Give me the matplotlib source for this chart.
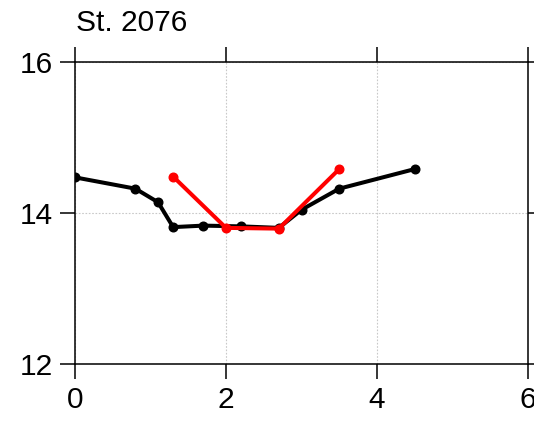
import matplotlib
matplotlib.use("Agg")
import matplotlib.pyplot as plt

plt.rcParams['font.family'] = ['Liberation Sans', 'DejaVu Sans']

# station profile data
black_x = [0.0, 0.8, 1.1, 1.3, 1.7, 2.2, 2.7, 3.0, 3.5, 4.5]
black_y = [14.47, 14.32, 14.14, 13.81, 13.83, 13.82, 13.80, 14.04, 14.32, 14.58]
red_x = [1.3, 2.0, 2.7, 3.5]
red_y = [14.48, 13.80, 13.79, 14.58]

x_ticks = [0, 2, 4, 6]
y_ticks = [12, 14, 16]
title = "St. 2076"

fig = plt.figure(figsize=(5.34, 4.21), dpi=100)
ax = fig.add_axes([75/534, 1 - 363.6/421, 453/534, 301.6/421])

ax.plot(black_x, black_y, color='black', lw=2.9, marker='o', ms=6.2, zorder=3)
ax.plot(red_x, red_y, color='#ff0000', lw=2.9, marker='o', ms=6.2, zorder=4)

ax.set_xlim(0, 6)
ax.set_ylim(12, 16)
ax.set_xticks(x_ticks)
ax.set_yticks(y_ticks)
ax.grid(True, color='#c8c8c8', linestyle=(0, (1.5, 1.5)), lw=0.8)
ax.set_axisbelow(True)

for s in ax.spines.values():
    s.set_linewidth(1.1)
ax.tick_params(direction='out', length=11, width=1.1, labelsize=21.5,
               top=True, right=True, labeltop=False, labelright=False)
ax.tick_params(axis='x', pad=5)
ax.tick_params(axis='y', pad=5)

ax.text(0.003, 1.103, title, transform=ax.transAxes, fontsize=21.5,
        ha='left', va='baseline')

fig.savefig("out.png", dpi=100)
